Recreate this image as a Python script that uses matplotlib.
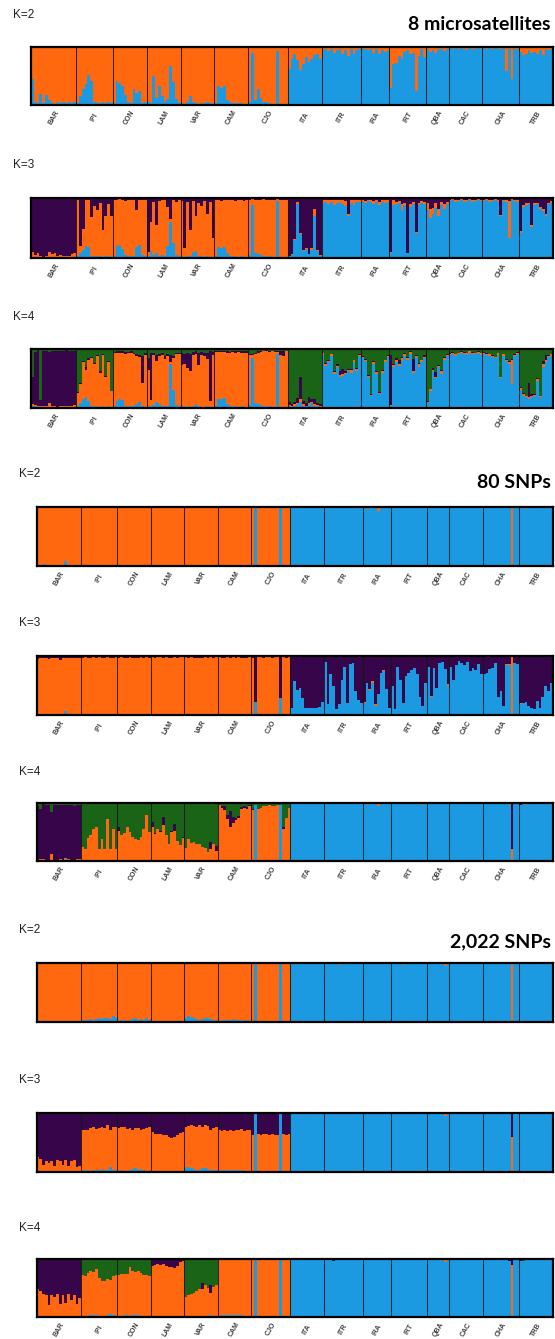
import numpy as np
import matplotlib
matplotlib.use("Agg")
import matplotlib.pyplot as plt

pops = ["BAR", "IPI", "CON", "LAM", "VAR", "CAM", "CJO", "ITA", "ITR", "IRA",
        "IRT", "QBA", "CAC", "CHA", "TRB"]
n_ind = [16, 13, 12, 12, 12, 12, 14, 12, 14, 10, 13, 8, 12, 13, 12]

# ---------------- 8 microsatellites (percent) ----------------
ms2_blue = [
    [45, 6, 4, 19, 3, 17, 8, 3, 2, 5, 3, 6, 4, 6, 3, 6],
    [4, 16, 28, 36, 52, 42, 5, 3, 4, 5, 3, 6, 4],
    [4, 42, 38, 32, 18, 6, 3, 28, 20, 25, 3, 5],
    [5, 4, 50, 12, 33, 15, 6, 10, 68, 40, 10, 4],
    [3, 2, 5, 16, 5, 3, 2, 4, 3, 6, 3, 2],
    [3, 32, 30, 32, 8, 5, 3, 4, 3, 3, 2, 2],
    [5, 90, 8, 27, 12, 6, 5, 3, 2, 2, 93, 2, 1, 1],
    [62, 80, 88, 78, 60, 70, 82, 74, 80, 86, 88, 80],
    [95, 97, 93, 96, 90, 95, 97, 88, 94, 84, 96, 88, 94, 96],
    [97, 96, 95, 97, 90, 96, 88, 94, 92, 95],
    [30, 70, 72, 85, 80, 92, 95, 88, 90, 24, 85, 96, 82],
    [97, 92, 95, 90, 97, 96, 93, 97],
    [98, 97, 98, 96, 98, 97, 95, 98, 97, 96, 98, 97],
    [98, 97, 98, 97, 98, 97, 97, 98, 58, 97, 45, 96, 97],
    [92, 86, 88, 95, 90, 92, 88, 94, 87, 96, 95, 96],
]

ms3_blue = [
    [2, 2, 1, 2, 1, 1, 2, 2, 1, 1, 2, 1, 1, 1, 2, 2],
    [4, 8, 14, 20, 18, 4, 3, 3, 3, 2, 3, 3, 2],
    [3, 20, 22, 15, 5, 3, 3, 4, 18, 22, 5, 3],
    [3, 12, 5, 8, 4, 5, 3, 20, 60, 25, 5, 3],
    [3, 2, 4, 3, 10, 12, 4, 3, 2, 3, 2, 2],
    [3, 18, 17, 19, 8, 4, 3, 3, 2, 3, 2, 2],
    [5, 88, 8, 6, 5, 4, 3, 3, 2, 2, 95, 2, 2, 2],
    [3, 5, 30, 90, 40, 12, 15, 6, 14, 70, 12, 4],
    [92, 94, 90, 93, 88, 92, 94, 90, 86, 70, 92, 88, 93, 94],
    [94, 92, 95, 93, 90, 94, 88, 93, 92, 94],
    [8, 88, 90, 92, 80, 88, 8, 85, 90, 42, 88, 92, 90],
    [80, 66, 74, 84, 70, 88, 82, 90],
    [95, 96, 94, 95, 96, 93, 95, 96, 94, 95, 96, 95],
    [95, 96, 94, 95, 96, 93, 70, 95, 94, 33, 96, 95, 94],
    [42, 85, 88, 90, 52, 88, 90, 82, 78, 70, 90, 92],
]
ms3_orange = [
    [8, 3, 7, 1, 1, 2, 8, 4, 7, 3, 3, 3, 2, 2, 4, 6],
    [92, 12, 35, 76, 79, 65, 83, 77, 89, 44, 67, 87, 68],
    [94, 76, 76, 82, 90, 94, 93, 93, 62, 75, 91, 94],
    [7, 48, 88, 47, 91, 91, 94, 65, 5, 72, 88, 93],
    [92, 15, 90, 43, 85, 58, 88, 83, 93, 71, 91, 32],
    [93, 79, 78, 77, 89, 92, 94, 92, 94, 94, 93, 94],
    [92, 10, 89, 90, 92, 94, 94, 93, 95, 95, 3, 95, 94, 95],
    [1, 1, 2, 3, 2, 2, 2, 1, 2, 12, 2, 1],
    [4, 3, 6, 3, 8, 4, 3, 6, 9, 4, 4, 8, 4, 3],
    [2, 3, 2, 3, 5, 2, 6, 3, 4, 2],
    [2, 8, 4, 3, 10, 4, 1, 5, 3, 2, 4, 3, 4],
    [12, 16, 10, 8, 12, 5, 8, 4],
    [2, 2, 3, 2, 2, 3, 2, 2, 3, 2, 2, 2],
    [2, 2, 3, 2, 2, 3, 2, 2, 3, 62, 2, 2, 3],
    [3, 4, 3, 2, 3, 4, 2, 3, 4, 3, 2, 3],
]

ms4_blue = [
    [4, 3, 2, 2, 2, 2, 1, 2, 1, 1, 2, 1, 2, 1, 2, 1],
    [3, 8, 15, 18, 12, 4, 3, 3, 2, 3, 2, 3, 2],
    [3, 12, 16, 14, 4, 3, 3, 3, 6, 10, 3, 2],
    [4, 3, 5, 10, 6, 4, 3, 4, 74, 30, 5, 3],
    [3, 2, 3, 2, 4, 6, 3, 2, 2, 3, 2, 2],
    [3, 16, 15, 17, 6, 4, 3, 3, 2, 3, 2, 2],
    [5, 85, 8, 6, 5, 4, 3, 3, 2, 2, 92, 2, 2, 2],
    [3, 2, 4, 6, 10, 4, 3, 5, 8, 4, 3, 2],
    [90, 72, 78, 88, 58, 70, 52, 55, 58, 62, 60, 78, 63, 88],
    [84, 80, 52, 20, 74, 58, 24, 60, 78, 86],
    [3, 70, 78, 72, 80, 88, 82, 92, 60, 86, 70, 78, 84],
    [8, 28, 62, 50, 70, 58, 82, 88],
    [90, 92, 88, 91, 93, 92, 90, 94, 92, 91, 93, 90],
    [92, 90, 88, 86, 84, 90, 50, 88, 80, 75, 40, 88, 92],
    [30, 20, 18, 16, 18, 20, 46, 18, 70, 78, 86, 88],
]
ms4_orange = [
    [3, 2, 2, 1, 2, 1, 8, 2, 3, 1, 2, 3, 2, 2, 1, 4],
    [23, 33, 63, 46, 70, 81, 72, 85, 58, 87, 50, 75, 26],
    [90, 82, 78, 80, 88, 90, 91, 88, 82, 76, 40, 88],
    [60, 10, 85, 70, 82, 86, 80, 84, 4, 55, 86, 88],
    [70, 72, 65, 60, 85, 86, 70, 88, 86, 80, 10, 88],
    [92, 79, 80, 78, 88, 90, 92, 91, 93, 90, 92, 92],
    [85, 5, 84, 88, 90, 92, 93, 92, 94, 93, 3, 88, 86, 94],
    [2, 1, 2, 3, 6, 2, 1, 3, 2, 3, 2, 1],
    [3, 3, 2, 3, 3, 2, 4, 3, 2, 3, 4, 3, 3, 2],
    [3, 2, 3, 2, 4, 3, 2, 3, 3, 2],
    [2, 3, 3, 2, 4, 3, 2, 3, 3, 2, 4, 3, 3],
    [3, 4, 3, 3, 2, 4, 3, 2],
    [2, 2, 3, 2, 2, 2, 3, 2, 2, 2, 2, 3],
    [2, 2, 3, 2, 2, 3, 2, 3, 2, 3, 42, 2, 2],
    [4, 3, 2, 2, 3, 2, 3, 2, 4, 3, 2, 3],
]
ms4_purple = [
    [45, 90, 94, 10, 92, 93, 86, 93, 92, 95, 92, 93, 94, 93, 94, 92],
    [1, 2, 2, 5, 2, 1, 2, 1, 2, 1, 2, 2, 1],
    [2, 2, 2, 2, 3, 2, 2, 3, 3, 4, 45, 3],
    [20, 80, 4, 10, 3, 3, 5, 4, 12, 3, 3, 3],
    [20, 18, 25, 30, 6, 4, 20, 5, 6, 10, 85, 5],
    [1, 2, 1, 2, 2, 1, 2, 2, 1, 3, 2, 2],
    [2, 1, 2, 2, 1, 1, 2, 2, 1, 2, 1, 6, 8, 1],
    [5, 3, 4, 8, 36, 6, 4, 10, 6, 8, 4, 3],
    [1, 2, 1, 1, 1, 2, 6, 8, 2, 1, 2, 1, 1, 1],
    [1, 1, 1, 1, 1, 2, 1, 1, 1, 1],
    [85, 2, 3, 8, 2, 2, 2, 2, 20, 2, 2, 1, 2],
    [1, 1, 2, 8, 1, 2, 1, 1],
    [1, 1, 1, 1, 1, 1, 1, 1, 1, 1, 1, 1],
    [1, 1, 1, 1, 1, 1, 1, 1, 1, 1, 1, 1, 1],
    [1, 2, 1, 24, 2, 1, 2, 1, 6, 8, 1, 1],
]

# ---------------- 80 SNPs ----------------
s80_2_blue = [
    [0, 0, 3, 1, 1, 0, 1, 0, 1, 1, 8, 2, 0, 1, 0, 1],
    [0, 0, 1, 0, 0, 0, 0, 1, 0, 0, 0, 1, 0],
    [0, 0, 0, 0, 0, 1, 2, 0, 0, 0, 0, 0],
    [0, 0, 0, 0, 0, 0, 0, 1, 0, 0, 0, 0],
    [0, 0, 0, 2, 1, 1, 1, 0, 0, 0, 0, 0],
    [0, 0, 1, 0, 0, 0, 0, 0, 1, 2, 1, 0],
    [0, 100, 0, 0, 0, 0, 0, 0, 0, 0, 100, 0, 0, 0],
    [100, 100, 100, 99, 100, 100, 100, 100, 100, 99, 100, 100],
    [100, 100, 99, 100, 100, 100, 100, 99, 100, 100, 100, 100, 100, 99],
    [98, 97, 99, 99, 98, 94, 98, 99, 98, 99],
    [100, 99, 100, 100, 100, 99, 100, 100, 100, 100, 99, 98, 100],
    [99, 98, 99, 100, 99, 98, 99, 99],
    [100, 100, 99, 100, 100, 100, 100, 99, 100, 100, 100, 100],
    [100, 100, 99, 100, 100, 100, 100, 100, 99, 98, 0, 100, 100],
    [98, 99, 97, 98, 99, 98, 99, 98, 99, 98, 98, 99],
]

s80_3_blue = [
    [0, 0, 2, 1, 1, 0, 1, 0, 1, 1, 6, 2, 0, 1, 0, 1],
    [0, 0, 1, 0, 0, 0, 0, 1, 0, 0, 0, 1, 0],
    [0, 0, 0, 0, 0, 1, 2, 0, 0, 0, 0, 0],
    [0, 0, 0, 0, 0, 0, 0, 1, 0, 0, 0, 0],
    [0, 0, 0, 2, 1, 1, 1, 0, 0, 0, 0, 0],
    [0, 0, 1, 0, 0, 0, 0, 0, 1, 2, 1, 0],
    [0, 22, 0, 0, 0, 0, 0, 0, 0, 0, 28, 0, 0, 0],
    [12, 58, 42, 46, 28, 12, 12, 12, 12, 12, 14, 22],
    [90, 18, 70, 50, 10, 18, 60, 82, 20, 86, 88, 40, 25, 20],
    [20, 55, 42, 55, 15, 35, 72, 74, 44, 12],
    [50, 10, 82, 60, 20, 66, 72, 76, 80, 70, 30, 15, 55],
    [82, 30, 80, 45, 88, 90, 78, 50],
    [82, 60, 85, 92, 88, 85, 90, 74, 80, 76, 86, 70],
    [70, 72, 78, 80, 88, 30, 40, 15, 84, 85, 0, 88, 87],
    [18, 20, 22, 15, 12, 10, 24, 12, 30, 50, 40, 55],
]
s80_3_orange = [
    [95, 96, 95, 96, 94, 96, 95, 97, 93, 96, 90, 94, 97, 96, 97, 96],
    [97, 98, 96, 97, 98, 97, 98, 96, 97, 98, 97, 96, 98],
    [97, 98, 97, 96, 98, 96, 95, 97, 98, 97, 98, 97],
    [98, 97, 98, 98, 97, 98, 97, 96, 98, 97, 98, 98],
    [98, 97, 98, 95, 96, 95, 95, 98, 97, 98, 97, 98],
    [98, 97, 96, 98, 97, 98, 97, 98, 96, 95, 96, 98],
    [97, 0, 98, 98, 97, 98, 98, 97, 98, 98, 0, 98, 97, 98],
    [0, 0, 0, 0, 0, 0, 0, 0, 0, 0, 0, 0],
    [0, 0, 0, 0, 0, 0, 0, 0, 0, 0, 0, 0, 0, 0],
    [2, 0, 2, 3, 4, 1, 0, 2, 0, 0],
    [0, 0, 0, 0, 0, 0, 0, 0, 0, 0, 0, 0, 0],
    [0, 2, 0, 0, 0, 0, 0, 2],
    [0, 0, 0, 0, 0, 0, 0, 0, 0, 0, 0, 0],
    [0, 0, 0, 0, 0, 0, 0, 0, 2, 1, 98, 0, 0],
    [2, 1, 0, 0, 0, 0, 0, 0, 0, 0, 0, 0],
]

s80_4_blue = [
    [0, 0, 2, 0, 0, 0, 0, 0, 0, 0, 3, 0, 0, 0, 0, 0],
    [0, 0, 0, 0, 0, 0, 0, 0, 0, 1, 0, 0, 0],
    [0, 0, 0, 0, 0, 0, 0, 1, 0, 0, 0, 0],
    [0, 0, 0, 0, 0, 0, 0, 0, 0, 0, 0, 0],
    [0, 0, 1, 0, 1, 0, 0, 0, 0, 0, 0, 0],
    [0, 0, 0, 0, 0, 0, 0, 0, 0, 0, 0, 0],
    [0, 97, 0, 0, 0, 0, 0, 0, 0, 0, 96, 0, 0, 0],
    [99, 99, 98, 99, 99, 99, 99, 98, 99, 99, 99, 98],
    [99, 99, 98, 99, 99, 99, 99, 98, 99, 99, 99, 99, 99, 98],
    [98, 97, 99, 99, 98, 94, 98, 99, 98, 99],
    [99, 99, 99, 99, 99, 99, 99, 99, 99, 99, 98, 97, 99],
    [99, 98, 99, 99, 99, 98, 98, 99],
    [99, 99, 99, 99, 99, 99, 99, 99, 99, 99, 99, 99],
    [99, 99, 99, 99, 99, 99, 99, 99, 98, 97, 0, 99, 99],
    [96, 98, 97, 98, 99, 98, 99, 98, 99, 98, 98, 99],
]
s80_4_orange = [
    [2, 4, 1, 1, 1, 12, 2, 2, 3, 1, 2, 3, 2, 2, 3, 3],
    [25, 20, 40, 45, 55, 58, 20, 38, 20, 72, 20, 55, 20],
    [52, 45, 48, 58, 50, 42, 38, 36, 42, 55, 80, 50],
    [58, 46, 55, 50, 62, 45, 30, 50, 52, 35, 28, 40],
    [22, 38, 30, 32, 28, 30, 24, 22, 16, 20, 30, 18],
    [96, 92, 88, 72, 58, 66, 70, 75, 90, 92, 90, 95],
    [88, 0, 90, 92, 94, 95, 96, 94, 95, 96, 0, 55, 75, 92],
    [1, 0, 1, 0, 0, 1, 0, 1, 0, 0, 1, 1],
    [0, 0, 1, 0, 0, 0, 0, 1, 0, 0, 0, 0, 0, 1],
    [1, 2, 0, 0, 1, 5, 1, 0, 1, 0],
    [0, 0, 0, 0, 0, 0, 0, 0, 0, 0, 1, 2, 0],
    [0, 1, 0, 0, 0, 1, 1, 0],
    [0, 0, 0, 0, 0, 0, 0, 0, 0, 0, 0, 0],
    [0, 0, 0, 0, 0, 0, 0, 0, 1, 2, 20, 0, 0],
    [1, 1, 1, 1, 0, 1, 0, 1, 0, 1, 1, 0],
]
s80_4_purple = [
    [93, 85, 95, 96, 96, 72, 95, 95, 94, 96, 92, 94, 95, 93, 94, 94],
    [0, 0, 0, 0, 0, 0, 0, 0, 0, 0, 0, 0, 0],
    [6, 0, 0, 0, 0, 0, 0, 0, 0, 0, 0, 0],
    [10, 2, 0, 2, 14, 0, 0, 2, 12, 0, 0, 2],
    [0, 0, 0, 0, 0, 0, 0, 0, 0, 12, 0, 8],
    [1, 2, 6, 8, 28, 10, 4, 3, 3, 2, 3, 2],
    [2, 0, 0, 0, 0, 0, 0, 0, 0, 0, 0, 3, 0, 0],
    [0, 0, 0, 0, 0, 0, 0, 0, 0, 0, 0, 0],
    [0, 0, 0, 0, 0, 0, 0, 0, 0, 0, 0, 0, 0, 0],
    [0, 0, 0, 0, 0, 0, 0, 0, 0, 0],
    [0, 0, 0, 0, 0, 0, 0, 0, 0, 0, 0, 0, 0],
    [0, 0, 0, 0, 0, 0, 0, 0],
    [0, 0, 0, 0, 0, 0, 0, 0, 0, 0, 0, 0],
    [0, 0, 0, 0, 0, 0, 0, 0, 0, 0, 78, 0, 0],
    [2, 0, 1, 0, 0, 0, 0, 0, 0, 0, 0, 0],
]

# ---------------- 2,022 SNPs ----------------
s2k_2_blue = [
    [0, 0, 0, 0, 0, 0, 0, 0, 0, 0, 0, 0, 0, 0, 0, 0],
    [3, 4, 4, 5, 4, 5, 6, 5, 7, 6, 5, 10, 6],
    [2, 3, 3, 2, 4, 5, 6, 4, 5, 3, 6, 4],
    [0, 0, 0, 0, 1, 0, 0, 0, 0, 0, 0, 0],
    [6, 10, 8, 6, 5, 4, 5, 6, 7, 5, 4, 3],
    [2, 3, 4, 3, 4, 5, 3, 4, 3, 3, 4, 2],
    [0, 100, 0, 0, 0, 0, 0, 0, 0, 0, 100, 0, 0, 0],
    [100, 100, 100, 100, 100, 100, 100, 100, 100, 100, 100, 100],
    [100, 100, 100, 100, 100, 97, 100, 100, 100, 98, 98, 100, 100, 100],
    [100, 100, 99, 100, 100, 100, 100, 100, 100, 100],
    [100, 100, 100, 100, 97, 100, 100, 100, 100, 100, 100, 100, 100],
    [100, 100, 100, 100, 100, 100, 95, 100],
    [100, 99, 100, 100, 100, 100, 100, 100, 100, 100, 100, 100],
    [100, 100, 100, 100, 100, 100, 100, 100, 100, 100, 0, 100, 100],
    [99, 98, 99, 98, 99, 99, 98, 99, 98, 100, 100, 100],
]

s2k_3_blue = [
    [0, 0, 0, 0, 0, 0, 0, 0, 0, 0, 0, 0, 0, 0, 0, 0],
    [2, 3, 3, 2, 4, 3, 4, 5, 4, 3, 8, 4, 3],
    [2, 3, 2, 2, 4, 5, 6, 4, 5, 3, 2, 2],
    [0, 0, 0, 0, 0, 0, 0, 0, 0, 0, 0, 0],
    [6, 9, 7, 5, 4, 4, 6, 7, 5, 4, 3, 3],
    [2, 3, 4, 3, 4, 3, 3, 4, 3, 2, 2, 2],
    [0, 100, 0, 0, 0, 0, 0, 0, 0, 0, 100, 0, 0, 0],
    [100, 100, 100, 100, 100, 100, 100, 100, 100, 100, 100, 100],
    [100, 100, 100, 98, 100, 98, 100, 100, 100, 99, 99, 100, 100, 100],
    [100, 100, 99, 100, 100, 100, 100, 100, 100, 100],
    [100, 100, 100, 100, 98, 100, 100, 100, 100, 100, 100, 100, 100],
    [100, 100, 100, 100, 100, 100, 95, 100],
    [100, 99, 100, 100, 100, 100, 100, 100, 100, 100, 100, 100],
    [100, 100, 100, 100, 100, 100, 100, 100, 100, 100, 0, 100, 100],
    [99, 98, 99, 98, 99, 99, 98, 99, 98, 100, 100, 100],
]
s2k_3_orange = [
    [25, 22, 12, 18, 16, 18, 10, 20, 18, 12, 20, 10, 18, 20, 8, 10],
    [70, 69, 68, 72, 73, 70, 71, 72, 70, 76, 64, 73, 73],
    [72, 74, 74, 71, 70, 67, 68, 71, 67, 70, 72, 74],
    [68, 64, 65, 64, 62, 63, 60, 58, 60, 62, 66, 68],
    [71, 69, 73, 73, 73, 75, 70, 73, 73, 68, 71, 73],
    [70, 67, 68, 66, 68, 67, 69, 67, 70, 68, 69, 70],
    [62, 0, 64, 63, 65, 64, 63, 64, 62, 63, 0, 64, 62, 65],
    [0, 0, 0, 0, 0, 0, 0, 0, 0, 0, 0, 0],
    [0, 0, 0, 0, 0, 2, 0, 0, 0, 1, 1, 0, 0, 0],
    [0, 0, 1, 0, 0, 0, 0, 0, 0, 0],
    [0, 0, 0, 0, 2, 0, 0, 0, 0, 0, 0, 0, 0],
    [0, 0, 0, 0, 0, 0, 5, 0],
    [0, 0, 0, 0, 0, 0, 0, 0, 0, 0, 0, 0],
    [0, 0, 0, 0, 0, 0, 0, 0, 0, 0, 60, 0, 0],
    [1, 1, 1, 1, 0, 1, 1, 0, 1, 0, 0, 0],
]

s2k_4_blue = [
    [0, 0, 0, 0, 0, 0, 0, 0, 0, 0, 0, 0, 0, 0, 0, 0],
    [1, 1, 2, 3, 3, 3, 2, 2, 2, 3, 5, 3, 2],
    [1, 2, 3, 3, 2, 4, 3, 3, 2, 1, 1, 1],
    [0, 0, 0, 0, 0, 0, 0, 0, 0, 0, 0, 0],
    [0, 0, 0, 0, 0, 0, 0, 0, 0, 3, 0, 0],
    [2, 3, 4, 3, 4, 3, 3, 4, 3, 2, 2, 2],
    [0, 100, 0, 0, 0, 0, 0, 0, 0, 0, 100, 0, 0, 0],
    [99, 100, 99, 100, 99, 100, 100, 99, 100, 100, 99, 100],
    [100, 100, 100, 97, 100, 99, 100, 99, 100, 100, 99, 100, 100, 100],
    [100, 100, 99, 100, 100, 100, 100, 100, 100, 100],
    [100, 100, 100, 100, 99, 100, 100, 100, 100, 100, 100, 100, 100],
    [100, 100, 100, 100, 100, 100, 95, 100],
    [100, 99, 100, 100, 100, 100, 100, 100, 100, 100, 100, 100],
    [100, 100, 100, 100, 100, 100, 100, 100, 100, 97, 0, 100, 100],
    [97, 97, 98, 98, 99, 98, 99, 99, 98, 99, 99, 100],
]
s2k_4_orange = [
    [48, 45, 40, 38, 20, 38, 35, 40, 22, 38, 25, 40, 30, 38, 22, 32],
    [71, 69, 74, 77, 75, 79, 66, 60, 60, 63, 59, 67, 70],
    [71, 72, 72, 71, 84, 76, 75, 77, 74, 71, 71, 69],
    [88, 90, 92, 90, 91, 88, 86, 87, 84, 88, 95, 97],
    [35, 38, 40, 42, 45, 48, 48, 55, 50, 38, 52, 55],
    [96, 95, 94, 95, 94, 95, 96, 94, 95, 96, 96, 97],
    [99, 0, 99, 99, 99, 98, 99, 99, 99, 99, 0, 98, 99, 99],
    [0, 0, 0, 0, 0, 0, 0, 0, 0, 0, 0, 0],
    [0, 0, 0, 0, 0, 0, 0, 0, 0, 0, 0, 0, 0, 0],
    [0, 0, 1, 0, 0, 0, 0, 0, 0, 0],
    [0, 0, 0, 0, 1, 0, 0, 0, 0, 0, 0, 0, 0],
    [0, 0, 0, 0, 0, 0, 5, 0],
    [0, 0, 0, 0, 0, 0, 0, 0, 0, 0, 0, 0],
    [0, 0, 0, 0, 0, 0, 0, 0, 0, 0, 90, 0, 0],
    [0, 0, 0, 0, 0, 0, 0, 0, 0, 0, 0, 0],
]
s2k_4_purple = [
    [52, 55, 60, 62, 80, 62, 65, 60, 78, 62, 75, 60, 70, 62, 78, 68],
    [0, 0, 0, 0, 0, 0, 0, 0, 0, 0, 0, 0, 0],
    [0, 0, 0, 0, 0, 0, 0, 0, 0, 0, 0, 0],
    [12, 10, 8, 10, 9, 12, 14, 13, 16, 12, 5, 3],
    [0, 0, 0, 0, 0, 0, 10, 0, 0, 14, 0, 0],
    [2, 2, 2, 2, 2, 2, 1, 2, 2, 2, 2, 1],
    [1, 0, 1, 1, 1, 2, 1, 1, 1, 1, 0, 2, 1, 1],
    [0, 0, 0, 0, 0, 0, 0, 0, 0, 0, 0, 0],
    [0, 0, 0, 3, 0, 0, 0, 0, 0, 0, 0, 0, 0, 0],
    [0, 0, 0, 0, 0, 0, 0, 0, 0, 0],
    [0, 0, 0, 0, 0, 0, 0, 0, 0, 0, 0, 0, 0],
    [0, 0, 0, 0, 0, 0, 0, 0],
    [0, 0, 0, 0, 0, 0, 0, 0, 0, 0, 0, 0],
    [0, 0, 0, 0, 0, 0, 0, 0, 0, 3, 10, 0, 0],
    [1, 0, 0, 0, 0, 0, 0, 0, 0, 0, 0, 0],
]

BLUE = "#1B9AE2"
ORANGE = "#FF680E"
PURPLE = "#36054A"
GREEN = "#1A6418"

W, H = 555, 1339
fig = plt.figure(figsize=(W / 100, H / 100), dpi=100)
fig.patch.set_facecolor("white")

N = sum(n_ind)
edges = np.arange(N + 1)
bounds = np.cumsum(n_ind)[:-1]
centers = np.cumsum(n_ind) - np.array(n_ind) / 2.0


def flat(nested, name):
    assert len(nested) == len(n_ind), name
    for p, v, n in zip(pops, nested, n_ind):
        assert len(v) == n, f"{name} {p}: {len(v)} != {n}"
    return np.concatenate([np.asarray(v, float) for v in nested]) / 100.0


def panel(x0, x1, ytop, ybot, layers, top_color, labels=True):
    ax = fig.add_axes([x0 / W, 1 - ybot / H, (x1 - x0) / W, (ybot - ytop) / H])
    cum = np.zeros(N)
    for vals, col in layers:
        nxt = np.minimum(cum + vals, 1.0)
        ax.stairs(nxt, edges, baseline=cum, fill=True, color=col, lw=0)
        cum = nxt
    ax.stairs(np.ones(N), edges, baseline=cum, fill=True, color=top_color, lw=0)
    for b in bounds:
        ax.axvline(b, color="#151515", lw=0.75, alpha=0.85)
    ax.set_xlim(0, N)
    ax.set_ylim(0, 1)
    ax.set_xticks([])
    ax.set_yticks([])
    for s in ax.spines.values():
        s.set_linewidth(1.6)
        s.set_color("black")
    if labels:
        for c, p in zip(centers, pops):
            xf = (x0 + c / N * (x1 - x0)) / W
            yf = 1 - (ybot + 12.5) / H
            fig.text(xf, yf, p, rotation=60, ha="center", va="center",
                     fontsize=5.0, fontweight="bold", family="Liberation Sans",
                     color="#404040")
    return ax


MSX = (31, 553)
SNX = (36.5, 552.5)

# microsatellites
panel(*MSX, 47, 105, [(flat(ms2_blue, "ms2b"), BLUE)], ORANGE)
panel(*MSX, 198, 258, [(flat(ms3_blue, "ms3b"), BLUE),
                       (flat(ms3_orange, "ms3o"), ORANGE)], PURPLE)
panel(*MSX, 349, 408, [(flat(ms4_blue, "ms4b"), BLUE),
                       (flat(ms4_orange, "ms4o"), ORANGE),
                       (flat(ms4_purple, "ms4p"), PURPLE)], GREEN)
# 80 SNPs
panel(*SNX, 507, 566, [(flat(s80_2_blue, "s802b"), BLUE)], ORANGE)
panel(*SNX, 656, 715, [(flat(s80_3_blue, "s803b"), BLUE),
                       (flat(s80_3_orange, "s803o"), ORANGE)], PURPLE)
panel(*SNX, 803, 861, [(flat(s80_4_blue, "s804b"), BLUE),
                       (flat(s80_4_orange, "s804o"), ORANGE),
                       (flat(s80_4_purple, "s804p"), PURPLE)], GREEN)
# 2,022 SNPs
panel(*SNX, 963, 1022, [(flat(s2k_2_blue, "s2k2b"), BLUE)], ORANGE, labels=False)
panel(*SNX, 1113, 1172, [(flat(s2k_3_blue, "s2k3b"), BLUE),
                         (flat(s2k_3_orange, "s2k3o"), ORANGE)], PURPLE, labels=False)
panel(*SNX, 1259, 1317, [(flat(s2k_4_blue, "s2k4b"), BLUE),
                         (flat(s2k_4_orange, "s2k4o"), ORANGE),
                         (flat(s2k_4_purple, "s2k4p"), PURPLE)], GREEN)

# K labels
k_labels = [("K=2", 13.5, 15), ("K=3", 13.5, 165), ("K=4", 13.5, 317),
            ("K=2", 19.5, 474), ("K=3", 19.5, 623), ("K=4", 19.5, 772),
            ("K=2", 19.5, 930), ("K=3", 19.5, 1080), ("K=4", 19.5, 1228)]
for txt, x, y in k_labels:
    fig.text(x / W, 1 - y / H, txt, ha="left", va="center", fontsize=8.5,
             family="Liberation Sans", color="#222222")

# dataset titles
for txt, y in [("8 microsatellites", 24), ("80 SNPs", 483), ("2,022 SNPs", 942)]:
    fig.text(551 / W, 1 - y / H, txt, ha="right", va="center", fontsize=14,
             fontweight="bold", family="Lato", color="black")

fig.savefig("out.png", dpi=100, facecolor="white")
